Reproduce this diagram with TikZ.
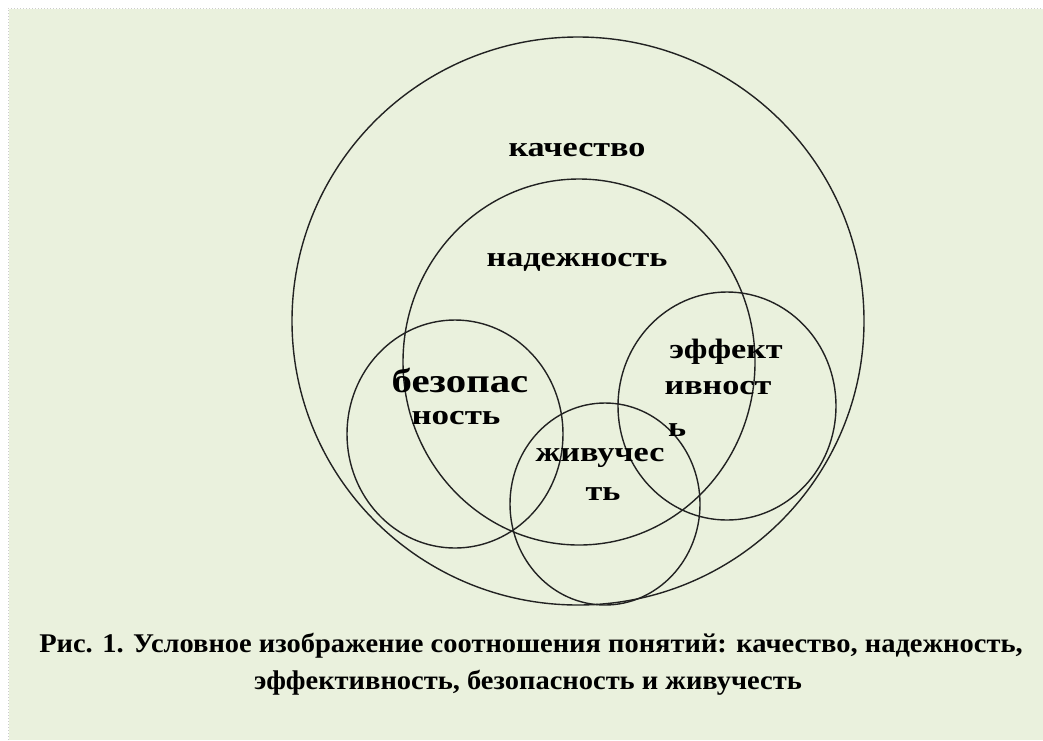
\documentclass[tikz,border=0pt]{standalone}
\usepackage{fontspec}
\setmainfont{Liberation Serif}
\definecolor{bg}{HTML}{EAF1DD}
\definecolor{ln}{HTML}{222222}
\newcommand{\wide}[2]{\scalebox{#1}[1]{#2}}
\begin{document}
\begin{tikzpicture}[x=1pt,y=-1pt,
  ring/.style={draw=ln, line width=1.4pt},
  lbl/.style={font=\bfseries\fontsize{28}{32}\selectfont, inner sep=0pt},
  biglbl/.style={font=\bfseries\fontsize{34}{38}\selectfont, inner sep=0pt},
  captxt/.style={font=\bfseries\fontsize{27}{32}\selectfont, inner sep=0pt}]
\useasboundingbox (0,0) rectangle (1043,740);
\fill[white] (0,0) rectangle (1043,740);
\fill[bg] (9,9) rectangle (1043,740);
\draw[gray!40, line width=1pt, dotted] (8,740) -- (8,8) -- (1043,8);
% circles
\draw[ring] (578,321) ellipse [x radius=286, y radius=284];
\draw[ring] (579,362) ellipse [x radius=176, y radius=183];
\draw[ring] (455,434) ellipse [x radius=108, y radius=114];
\draw[ring] (727,406) ellipse [x radius=109, y radius=114];
\draw[ring] (605,504) ellipse [x radius=95, y radius=101];
% labels
\node[lbl] (q) at (577,150) {\wide{1.22}{качество}};
\node[lbl] (n) at (577,262) {\wide{1.22}{надежность}};
\node[biglbl] (b1) at (460,380) {\wide{1.2}{безопас}};
\node[lbl] (b2) at (456,418) {\wide{1.25}{ность}};
\node[lbl] (e1) at (726,352) {\wide{1.22}{эффект}};
\node[lbl] (e2) at (718,388) {\wide{1.22}{ивност}};
\node[lbl, anchor=west] (e3) at (668,430) {\wide{1.22}{ь}};
\node[lbl] (z1) at (600,458) {\wide{1.22}{живучес}};
\node[lbl] (z2) at (603,494) {\wide{1.22}{ть}};
% caption
\node[captxt] (c1) at (531,646) {\wide{1.055}{Рис. 1. Условное изображение соотношения понятий: качество, надежность,}};
\node[captxt] (c2) at (528,683) {\wide{1.055}{эффективность, безопасность и живучесть}};
\end{tikzpicture}
\end{document}
